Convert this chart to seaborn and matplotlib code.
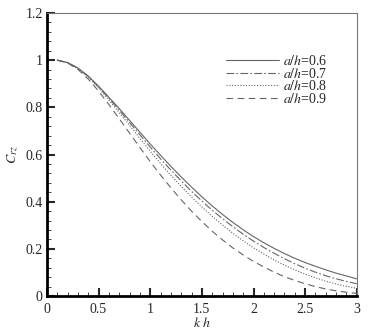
import numpy as np
import pandas as pd
import matplotlib
matplotlib.use("Agg")
import matplotlib.pyplot as plt
from matplotlib.ticker import MultipleLocator, FormatStrFormatter
import seaborn as sns

# data
kh = [0.1, 0.2, 0.3, 0.4, 0.5, 0.6, 0.7, 0.8, 0.9, 1.0,
      1.1, 1.2, 1.3, 1.4, 1.5, 1.6, 1.7, 1.8, 1.9, 2.0,
      2.1, 2.2, 2.3, 2.4, 2.5, 2.6, 2.7, 2.8, 2.9, 3.0]
c_06 = [1.000, 0.990, 0.967, 0.933, 0.890, 0.843, 0.795, 0.745, 0.695, 0.645,
        0.597, 0.550, 0.505, 0.462, 0.421, 0.382, 0.346, 0.312, 0.281, 0.252,
        0.226, 0.202, 0.180, 0.160, 0.142, 0.126, 0.111, 0.097, 0.085, 0.073]
c_07 = [1.000, 0.990, 0.966, 0.931, 0.887, 0.838, 0.788, 0.736, 0.684, 0.632,
        0.582, 0.534, 0.488, 0.444, 0.403, 0.364, 0.328, 0.294, 0.262, 0.233,
        0.206, 0.181, 0.158, 0.137, 0.118, 0.101, 0.086, 0.073, 0.062, 0.052]
c_08 = [1.000, 0.989, 0.964, 0.928, 0.882, 0.831, 0.778, 0.724, 0.669, 0.614,
        0.562, 0.512, 0.465, 0.420, 0.378, 0.338, 0.301, 0.266, 0.234, 0.205,
        0.178, 0.153, 0.131, 0.111, 0.093, 0.077, 0.063, 0.051, 0.041, 0.033]
c_09 = [1.000, 0.988, 0.961, 0.920, 0.869, 0.812, 0.752, 0.691, 0.630, 0.570,
        0.513, 0.459, 0.408, 0.360, 0.316, 0.275, 0.238, 0.204, 0.174, 0.147,
        0.123, 0.101, 0.082, 0.066, 0.052, 0.040, 0.030, 0.022, 0.016, 0.011]
ratios = ["0.6", "0.7", "0.8", "0.9"]

sns.set_style("ticks")
plt.rcParams['font.family'] = ['Liberation Serif', 'DejaVu Serif']
plt.rcParams['mathtext.fontset'] = 'stix'

fig = plt.figure(figsize=(3.69, 3.33), dpi=100)
ax = fig.add_axes([0.127, 0.111, 0.840, 0.850])

styles = ["-", (0, (7, 2, 1.5, 2)), (0, (1, 1.5)), (0, (6, 4))]
for vals, r, ls in zip([c_06, c_07, c_08, c_09], ratios, styles):
    sns.lineplot(x=kh, y=vals, ax=ax, color="#666666", linewidth=0.8,
                 linestyle=ls, label="$a/h$=" + r)

ax.set_xlim(0, 3)
ax.set_ylim(0, 1.2)
ax.xaxis.set_major_locator(MultipleLocator(0.5))
ax.xaxis.set_minor_locator(MultipleLocator(0.1))
ax.yaxis.set_major_locator(MultipleLocator(0.2))
ax.yaxis.set_minor_locator(MultipleLocator(0.04))
ax.xaxis.set_major_formatter(FormatStrFormatter("%g"))
ax.yaxis.set_major_formatter(FormatStrFormatter("%g"))
ax.tick_params(which="major", direction="in", length=6, width=1.5, labelsize=10)
ax.tick_params(axis="x", which="major", pad=5)
ax.tick_params(axis="y", which="major", pad=3)
ax.tick_params(which="minor", direction="in", length=3, width=0.6)

for s in ["left", "bottom"]:
    ax.spines[s].set_linewidth(2)
    ax.spines[s].set_color("black")
for s in ["top", "right"]:
    ax.spines[s].set_linewidth(0.8)
    ax.spines[s].set_color("#777777")

ax.set_xlabel("$k$ $h$", fontsize=10, labelpad=0)
ax.set_ylabel("$C_{rz}$", fontsize=10, labelpad=4)

ax.legend(loc="upper left", bbox_to_anchor=(0.56, 0.875), frameon=False,
          fontsize=10, handlelength=3.8, labelspacing=-0.1, handletextpad=0.3,
          borderaxespad=0)

fig.savefig("out.png", dpi=100)
